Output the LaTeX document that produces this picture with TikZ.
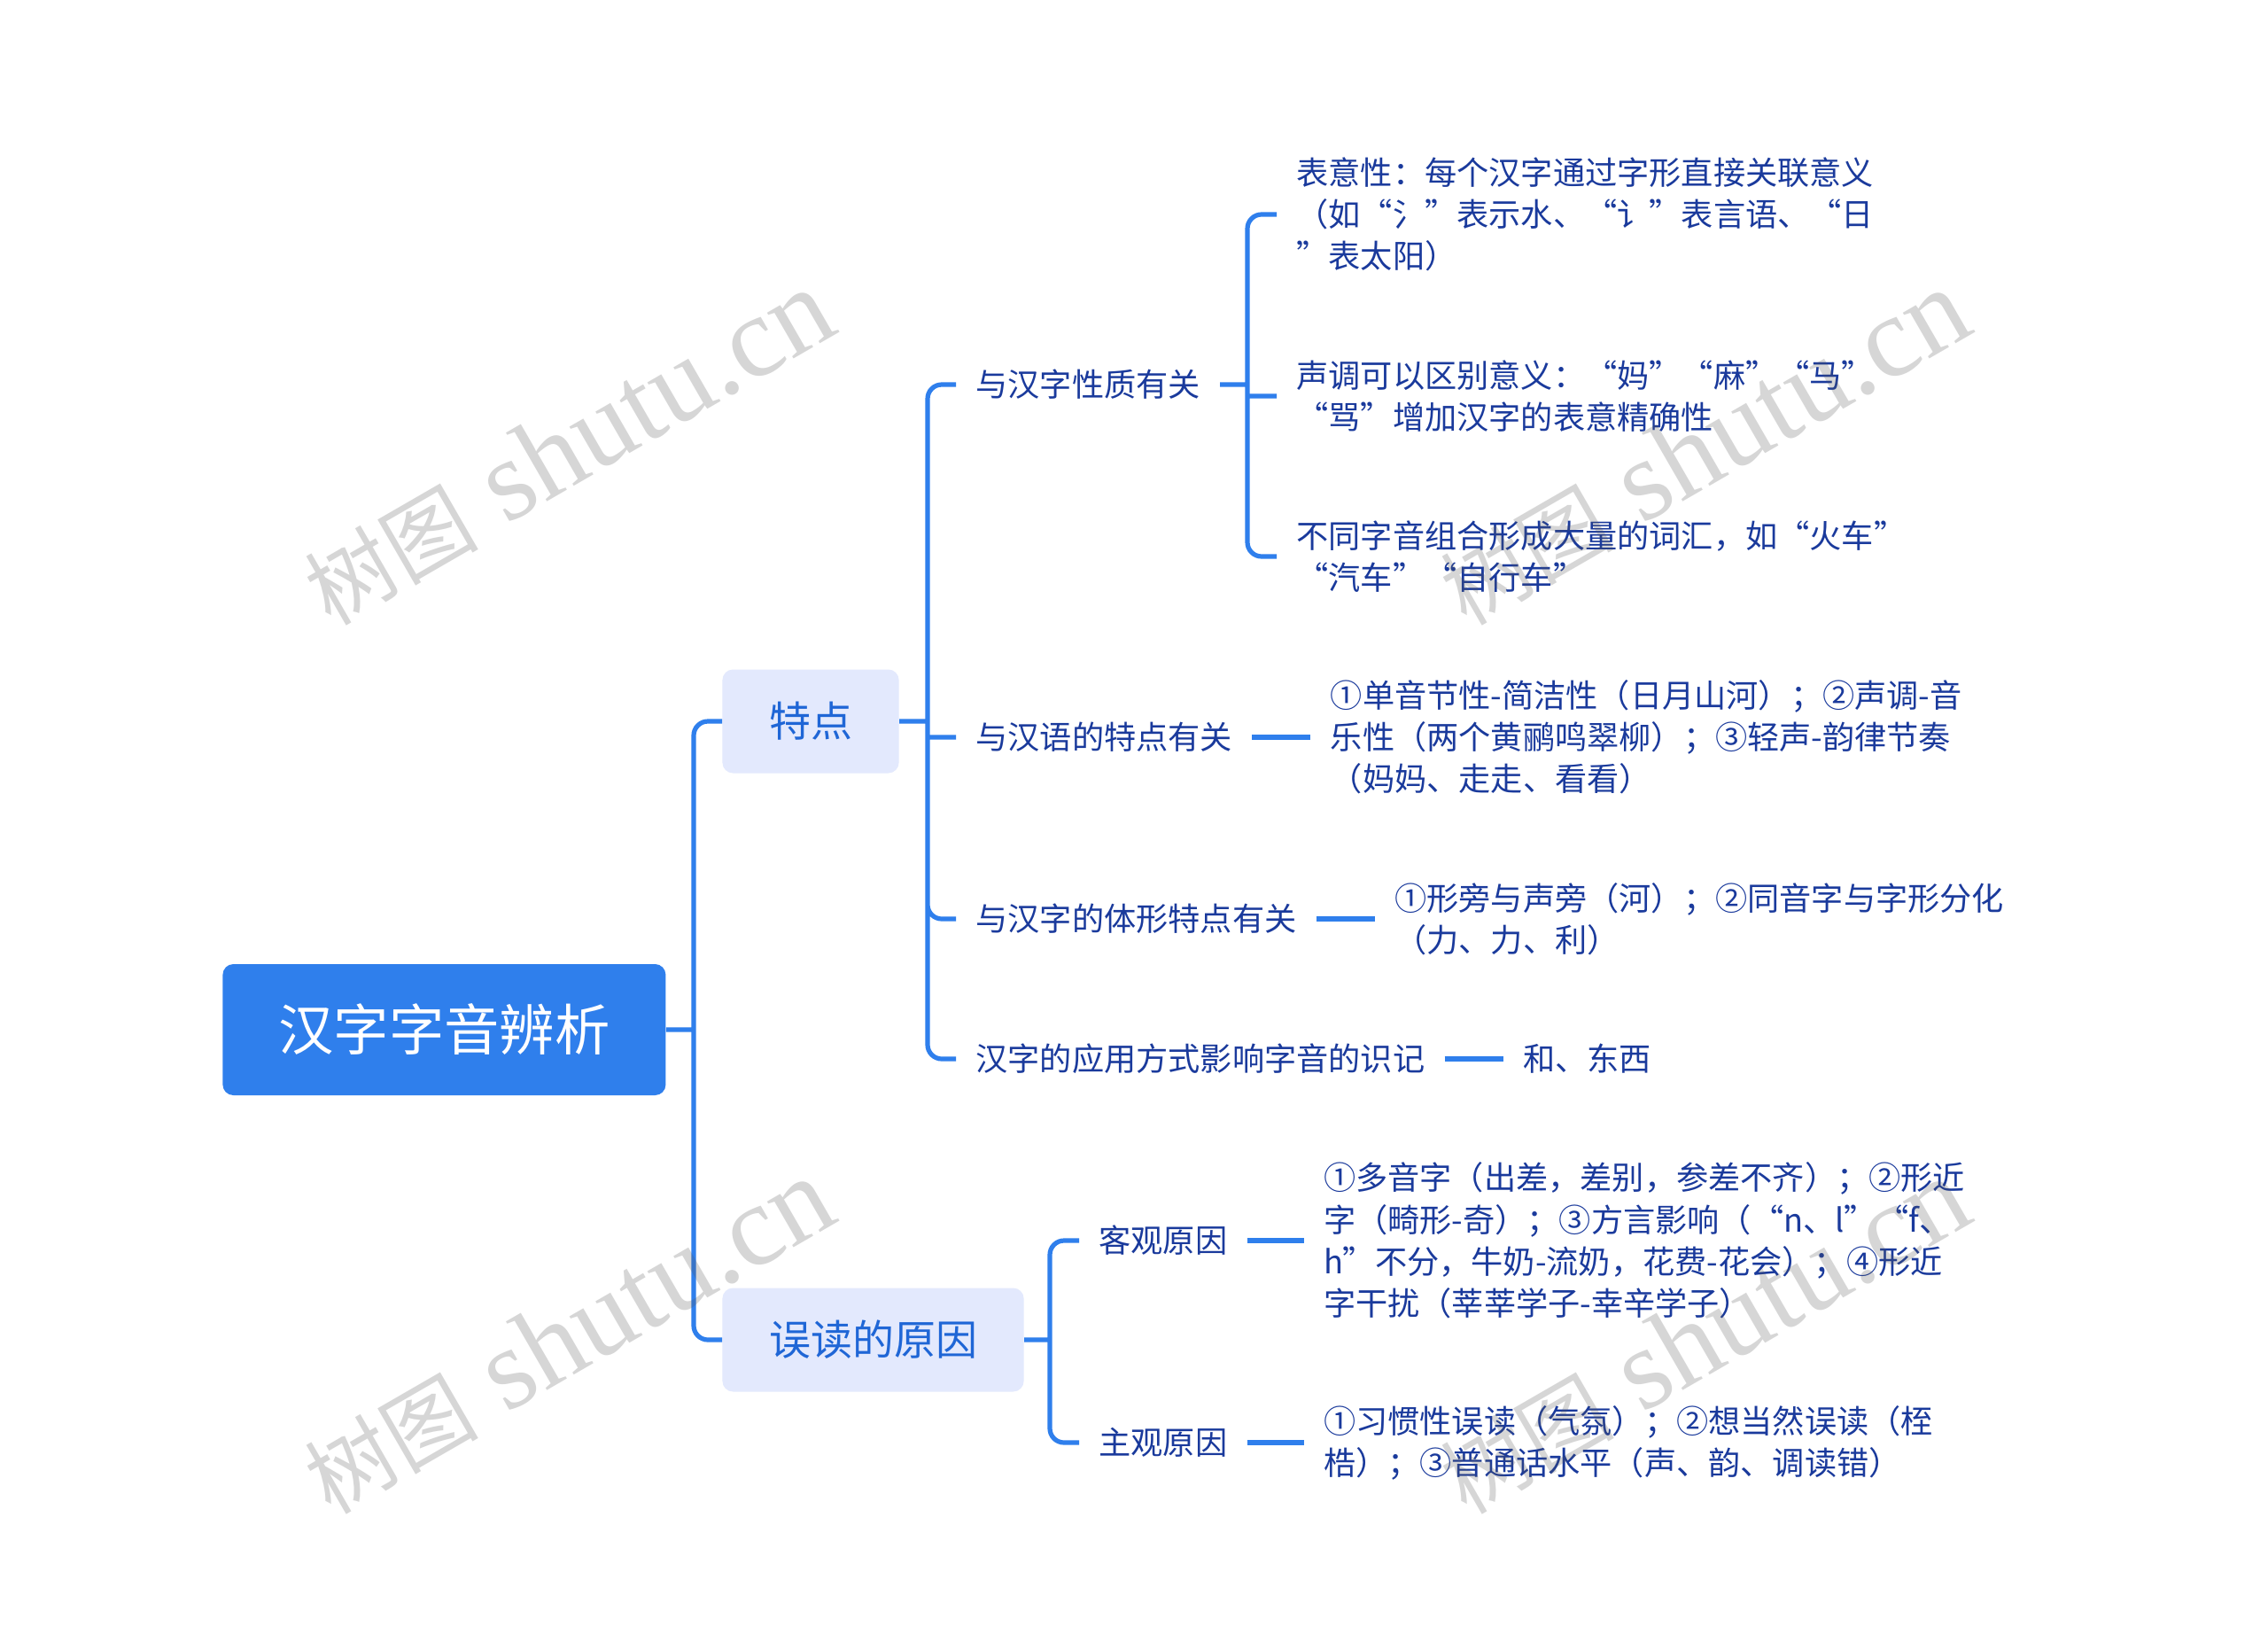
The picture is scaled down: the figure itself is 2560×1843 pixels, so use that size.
\documentclass[tikz,border=0pt]{standalone}
\usepackage{fontspec}
\setmainfont{Noto Sans CJK SC}
\newfontfamily\wmfont{Liberation Serif}
\usetikzlibrary{positioning}
\definecolor{rootblue}{HTML}{2F7FEC}
\definecolor{linkblue}{HTML}{2F7FEC}
\definecolor{softblue}{HTML}{E3E9FD}
\definecolor{midblue}{HTML}{1F66D6}
\definecolor{navytext}{HTML}{1A3A9C}
\definecolor{wmgrey}{HTML}{555555}

\begin{document}
\begin{tikzpicture}[x=0.5pt,y=-0.5pt]
    \tikzstyle{rootbox}=[rectangle, rounded corners=6pt, fill=rootblue, text=white, anchor=west, minimum width=250pt, minimum height=74pt, inner sep=0pt, font=\fontsize{31.2pt}{36pt}\selectfont]
    \tikzstyle{mainbox}=[rectangle, rounded corners=6pt, fill=softblue, text=midblue, anchor=west, minimum height=58.5pt, inner xsep=26.3pt, inner ysep=0pt, font=\fontsize{23.5pt}{28pt}\selectfont]
    \tikzstyle{branch}=[text=navytext, anchor=west, inner xsep=11pt, inner ysep=0pt, font=\fontsize{18.1pt}{23.6pt}\selectfont]
    \tikzstyle{detail}=[branch, align=left]
    \tikzstyle{connect}=[draw=linkblue, line width=2.6pt, rounded corners=8pt]
    \tikzstyle{dashlink}=[draw=linkblue, line width=3pt]
    \tikzstyle{wmark}=[text=wmgrey, opacity=0.24, rotate=30, inner sep=0pt, font=\wmfont\fontsize{65pt}{70pt}\selectfont]

    \useasboundingbox (0,0) rectangle (2560,1843);
    \fill[white] (0,0) rectangle (2560,1843);

      \node[rootbox] (hanzi) at (251,1162) {汉字字音辨析};
      \node[mainbox] (tedian) at (815,814) {特点};
      \node[mainbox] (wudu) at (815,1512) {误读的原因};

      \node[branch] (xingzhi) at (1079,434) {与汉字性质有关};
      \node[branch] (hanyu) at (1079,832) {与汉语的特点有关};
      \node[branch] (tixing) at (1079,1037) {与汉字的体形特点有关};
      \node[branch] (yingyong) at (1079,1195) {汉字的应用方式影响字音的识记};
      \node[branch] (keguan) at (1218,1400) {客观原因};
      \node[branch] (zhuguan) at (1218,1628) {主观原因};

      \node[detail] (biaoyi) at (1441,242) {表意性：每个汉字通过字形直接关联意义\\（如“氵”表示水、“讠”表言语、“日\\”表太阳）};
      \node[detail] (shengdiao) at (1441,447) {声调可以区别意义：“妈”“麻”“马”\\“骂”增加汉字的表意精确性};
      \node[detail] (zuhe) at (1441,628) {不同字音组合形成大量的词汇，如“火车”\\“汽车”“自行车”};
      \node[detail] (yuyin) [right=33pt of hanyu] {①单音节性-简洁性（日月山河）；②声调-音\\乐性（两个黄鹂鸣翠柳）；③轻声-韵律节奏\\（妈妈、走走、看看）};
      \node[detail] (xingpang) [right=33pt of tixing] {①形旁与声旁（河）；②同音字与字形分化\\（力、力、利）};
      \node[detail] (hedong) [right=33pt of yingyong] {和、东西};
      \node[detail] (duoyin) [right=32pt of keguan] {①多音字（出差，差别，参差不齐）；②形近\\字（畸形-奇）；③方言影响（“n、l”“f、\\h”不分，牛奶-流奶，花费-花会）；④形近\\字干扰（莘莘学子-幸辛学子）};
      \node[detail] (xiguan) [right=32pt of zhuguan] {①习惯性误读（气氛）；②想当然误读（桎\\梏）；③普通话水平（声、韵、调读错）};

      \coordinate (trunk) at (783,1162);
      \coordinate (trunka) at (1047,814);
      \coordinate (trunkb) at (1408,434);
      \coordinate (trunkc) at (1185,1512);

      \path[connect]
        (hanzi.east) -- (trunk)
        (tedian.west) -| (trunk) |- (wudu.west)
        (tedian.east) -- (trunka)
        (xingzhi.west) -| (trunka) |- (yingyong.west)
        (trunka |- hanyu.west) -- (hanyu.west)
        (trunka) |- (tixing.west)
        (xingzhi.east) -- (trunkb)
        (biaoyi.west) -| (trunkb) |- (zuhe.west)
        (trunkb |- shengdiao.west) -- (shengdiao.west)
        (wudu.east) -- (trunkc)
        (keguan.west) -| (trunkc) |- (zhuguan.west);
      \path[dashlink]
        (hanyu) edge (yuyin.west |- hanyu)
        (tixing) edge (xingpang.west |- tixing)
        (yingyong) edge (hedong)
        (keguan) edge (duoyin.west |- keguan)
        (zhuguan) edge (xiguan.west |- zhuguan);

      \foreach \wx/\wy/\wname in {641/505/wma, 1923/505/wmb, 641/1508/wmc, 1923/1508/wmd}
        \node[wmark] (\wname) at (\wx,\wy) {{\fontspec{Noto Sans CJK SC}\fontsize{49pt}{60pt}\selectfont 树图} shutu.cn};
    \end{tikzpicture}
\end{document}
